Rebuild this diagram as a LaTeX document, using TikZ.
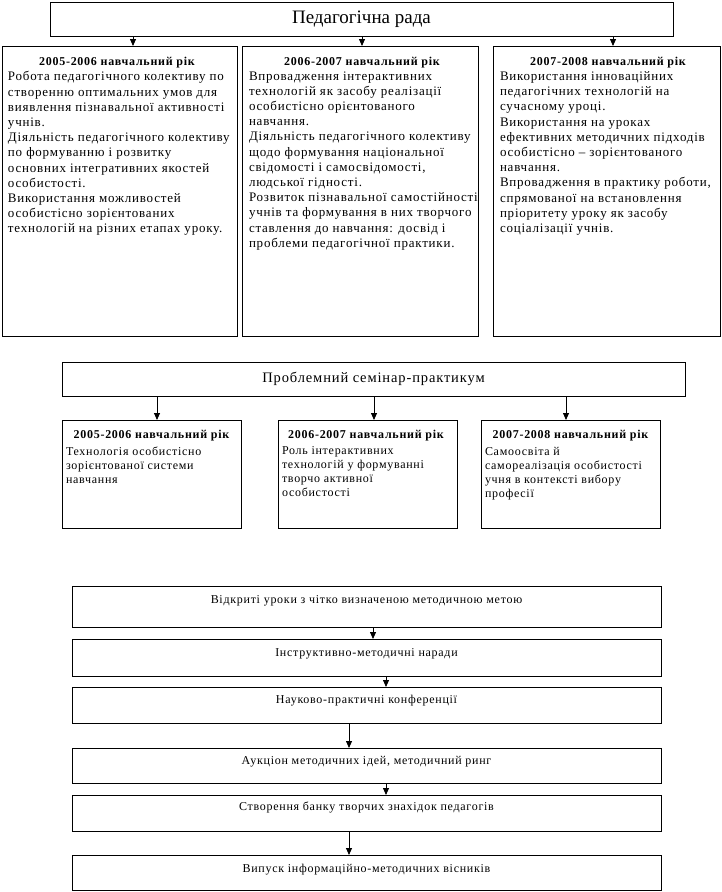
\documentclass[tikz,border=0pt]{standalone}
\usepackage{fontspec}
\setmainfont{Liberation Serif}[LetterSpace=6]
\newfontfamily\headfont{Liberation Serif}
\usetikzlibrary{arrows.meta}
\tikzset{
  frame/.style={draw, line width=0.8pt, inner sep=0pt, outer sep=0pt, anchor=north west},
  bigbody/.style={anchor=north west, inner sep=0pt, outer sep=0pt, align=left,
    font=\fontsize{13}{15.2}\selectfont},
  bodytext/.style={anchor=north west, inner sep=0pt, outer sep=0pt, align=left,
    font=\fontsize{12}{14}\selectfont},
  yeartitle/.style={anchor=base, inner sep=0pt, outer sep=0pt,
    font=\bfseries\fontsize{12}{14.5}\selectfont},
  linetext/.style={anchor=base, inner sep=0pt, outer sep=0pt,
    font=\fontsize{12}{14.5}\selectfont},
  arr/.style={line width=0.8pt, -{Triangle[width=6pt,length=7pt]}},
}
\begin{document}
\begin{tikzpicture}[x=1pt,y=-1pt]
\useasboundingbox (0,0) rectangle (722,892);

% ---- Педагогічна рада
\node[frame, minimum width=623, minimum height=34] (rada) at (50,2) {};
\node[inner sep=0pt, font=\headfont\fontsize{19}{22}\selectfont] (radat) at (rada.center) {Педагогічна рада};

\node[frame, minimum width=235, minimum height=290] (y1) at (2,46) {};
\node[frame, minimum width=236, minimum height=290] (y2) at (242,46) {};
\node[frame, minimum width=227, minimum height=290] (y3) at (493,46) {};

\node[yeartitle] (y1t) at (117,65) {2005-2006 навчальний рік};
\node[yeartitle] (y2t) at (362,65) {2006-2007 навчальний рік};
\node[yeartitle] (y3t) at (608,65) {2007-2008 навчальний рік};

\node[bigbody] (y1b) at (8,71.5) {Робота педагогічного колективу по\\
створенню оптимальних умов для\\
виявлення пізнавальної активності\\
учнів.\\
Діяльність педагогічного колективу\\
по формуванню і розвитку\\
основних інтегративних якостей\\
особистості.\\
Використання можливостей\\
особистісно зорієнтованих\\
технологій на різних етапах уроку.};

\node[bigbody] (y2b) at (249,71.5) {Впровадження інтерактивних\\
технологій як засобу реалізації\\
особистісно орієнтованого\\
навчання.\\
Діяльність педагогічного колективу\\
щодо формування національної\\
свідомості і самосвідомості,\\
людської гідності.\\
Розвиток пізнавальної самостійності\\
учнів та формування в них творчого\\
ставлення до навчання: досвід і\\
проблеми педагогічної практики.};

\node[bigbody] (y3b) at (500,71.5) {Використання інноваційних\\
педагогічних технологій на\\
сучасному уроці.\\
Використання на уроках\\
ефективних методичних підходів\\
особистісно – зорієнтованого\\
навчання.\\
Впровадження в практику роботи,\\
спрямованої на встановлення\\
пріоритету уроку як засобу\\
соціалізації учнів.};

\draw[arr] (133,0 |- rada.south) -- (133,0 |- y1.north);
\draw[arr] (362,0 |- rada.south) -- (362,0 |- y2.north);
\draw[arr] (613,0 |- rada.south) -- (613,0 |- y3.north);

% ---- Проблемний семінар-практикум
\node[frame, minimum width=623, minimum height=34] (sem) at (62,362) {};
\node[inner sep=0pt, font=\fontsize{14.5}{17}\selectfont] (semt) at (sem.center) {Проблемний семінар-практикум};

\node[frame, minimum width=179, minimum height=108] (sa) at (62,420) {};
\node[frame, minimum width=179, minimum height=108] (sb) at (278,420) {};
\node[frame, minimum width=179, minimum height=108] (sc) at (481,420) {};

\node[yeartitle] (sat) at (151.5,438) {2005-2006 навчальний рік};
\node[yeartitle] (sbt) at (366,438) {2006-2007 навчальний рік};
\node[yeartitle] (sct) at (570.5,438) {2007-2008 навчальний рік};

\node[bodytext] (sab) at (66,447) {Технологія особистісно\\
зорієнтованої системи\\
навчання};
\node[bodytext] (sbb) at (282,447) {Роль інтерактивних\\
технологій у формуванні\\
творчо активної\\
особистості};
\node[bodytext] (scb) at (485,447) {Самоосвіта й\\
самореалізація особистості\\
учня в контексті вибору\\
професії};

\draw[arr] (157,0 |- sem.south) -- (157,0 |- sa.north);
\draw[arr] (374,0 |- sem.south) -- (374,0 |- sb.north);
\draw[arr] (566,0 |- sem.south) -- (566,0 |- sc.north);

% ---- chain
\node[frame, minimum width=589, minimum height=41] (c1) at (72,586) {};
\node[frame, minimum width=589, minimum height=37] (c2) at (72,639) {};
\node[frame, minimum width=589, minimum height=36] (c3) at (72,687) {};
\node[frame, minimum width=589, minimum height=35] (c4) at (72,748) {};
\node[frame, minimum width=589, minimum height=36] (c5) at (72,795) {};
\node[frame, minimum width=589, minimum height=35] (c6) at (72,855) {};

\node[linetext] (c1t) at (366.5,603) {Відкриті уроки з чітко визначеною методичною метою};
\node[linetext] (c2t) at (366.5,656) {Інструктивно-методичні наради};
\node[linetext] (c3t) at (366.5,703) {Науково-практичні конференції};
\node[linetext] (c4t) at (366.5,764) {Аукціон методичних ідей, методичний ринг};
\node[linetext] (c5t) at (366.5,810) {Створення банку творчих знахідок педагогів};
\node[linetext] (c6t) at (366.5,872) {Випуск інформаційно-методичних вісників};

\draw[arr] (373,0 |- c1.south) -- (373,0 |- c2.north);
\draw[arr] (386,0 |- c2.south) -- (386,0 |- c3.north);
\draw[arr] (349,0 |- c3.south) -- (349,0 |- c4.north);
\draw[arr] (386,0 |- c4.south) -- (386,0 |- c5.north);
\draw[arr] (349,0 |- c5.south) -- (349,0 |- c6.north);
\end{tikzpicture}
\end{document}
